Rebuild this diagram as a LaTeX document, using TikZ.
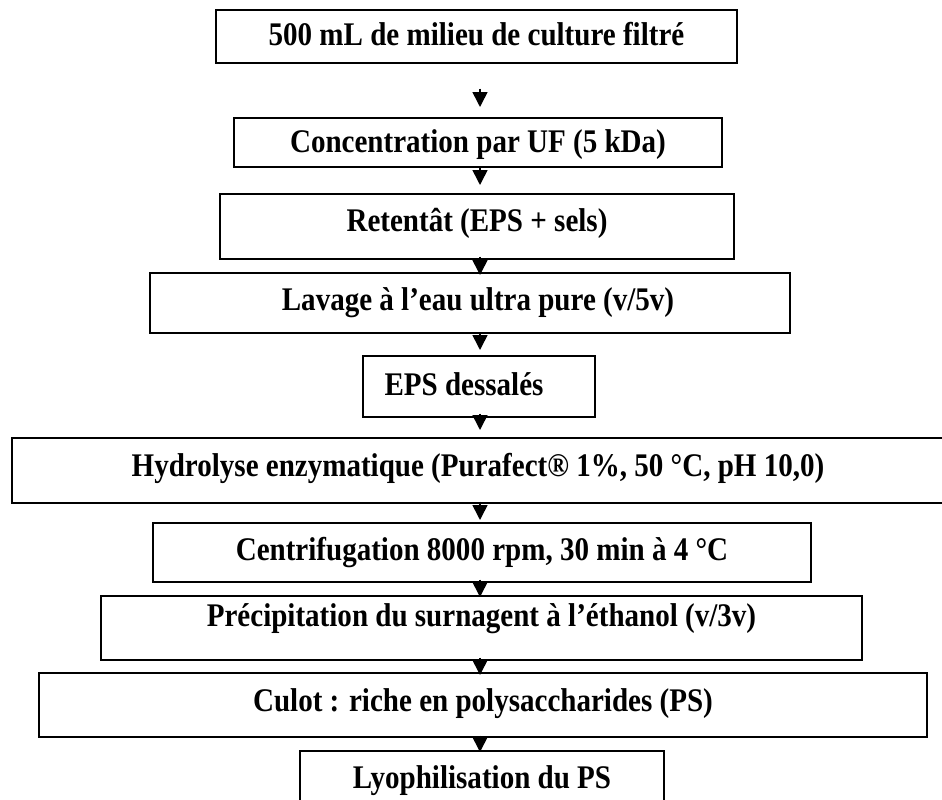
\documentclass[tikz,border=0pt]{standalone}
\usepackage{fontspec}
\setmainfont{Liberation Serif}[FakeStretch=0.88]
\usetikzlibrary{calc,arrows.meta}
\tikzset{
  stepbox/.style={draw=black, line width=1.7pt, fill=white, anchor=north,
    inner xsep=0pt, inner ysep=0pt, align=center,
    font=\fontsize{33}{36}\selectfont\bfseries},
  arr/.style={line width=1.6pt, -{Triangle[width=15pt,length=15pt]}}
}
\begin{document}
\begin{tikzpicture}[x=1pt,y=-1pt]
\useasboundingbox (0,0) rectangle (942,800);
\clip (0,0) rectangle (942,800);
\fill[white] (0,0) rectangle (942,800);
\coordinate (ax) at (480,0);

\node[stepbox, minimum width=521pt, text height=36pt, text depth=17pt] (b1) at (476.5,9) {500 mL de milieu de culture filtré};
\node[stepbox, minimum width=488pt, text height=35pt, text depth=14pt] (b2) at (478,117) {Concentration par UF (5 kDa)};
\node[stepbox, minimum width=514pt, text height=38pt, text depth=27pt] (b3) at (477,193) {Retentât (EPS + sels)};
\node[stepbox, minimum width=640pt, text height=38pt, text depth=22pt] (b4) at (470,272) {\hspace*{16pt}Lavage à l’eau ultra pure (v/5v)};
\node[stepbox, minimum width=232pt, text height=40pt, text depth=21pt] (b5) at (479,355) {\hspace*{-30pt}EPS dessalés};
\node[stepbox, minimum width=932pt, text height=39pt, text depth=26pt] (b6) at (478,437) {Hydrolyse enzymatique (Purafect® 1\%, 50 °C, pH 10,0)};
\node[stepbox, minimum width=658pt, text height=38pt, text depth=21pt] (b7) at (482,522) {Centrifugation 8000 rpm, 30 min à 4 °C};
\node[stepbox, minimum width=761pt, text height=31pt, text depth=33pt] (b8) at (481.5,595) {Précipitation du surnagent à l’éthanol (v/3v)};
\node[stepbox, minimum width=888pt, text height=39pt, text depth=25pt] (b9) at (483,672) {Culot : riche en polysaccharides (PS)};
\node[stepbox, minimum width=364pt, text height=38pt, text depth=32pt] (b10) at (482,750) {Lyophilisation du PS};

\draw[arr] ($(b1.south -| ax)+(0,25)$) -- ($(b2.north -| ax)+(0,-10)$);
\draw[arr] ($(b2.south -| ax)+(0,0)$) -- ($(b3.north -| ax)+(0,-8)$);
\draw[arr] ($(b3.south -| ax)+(0,-3)$) -- ($(b4.north -| ax)+(0,3)$);
\draw[arr] ($(b4.south -| ax)+(0,0)$) -- ($(b5.north -| ax)+(0,-5)$);
\draw[arr] ($(b5.south -| ax)+(0,-4)$) -- ($(b6.north -| ax)+(0,-7)$);
\draw[arr] ($(b6.south -| ax)+(0,-2)$) -- ($(b7.north -| ax)+(0,-2)$);
\draw[arr] ($(b7.south -| ax)+(0,-3)$) -- ($(b8.north -| ax)+(0,2)$);
\draw[arr] ($(b8.south -| ax)+(0,-3)$) -- ($(b9.north -| ax)+(0,3)$);
\draw[arr] ($(b9.south -| ax)+(0,-2)$) -- ($(b10.north -| ax)+(0,2)$);
\end{tikzpicture}
\end{document}
